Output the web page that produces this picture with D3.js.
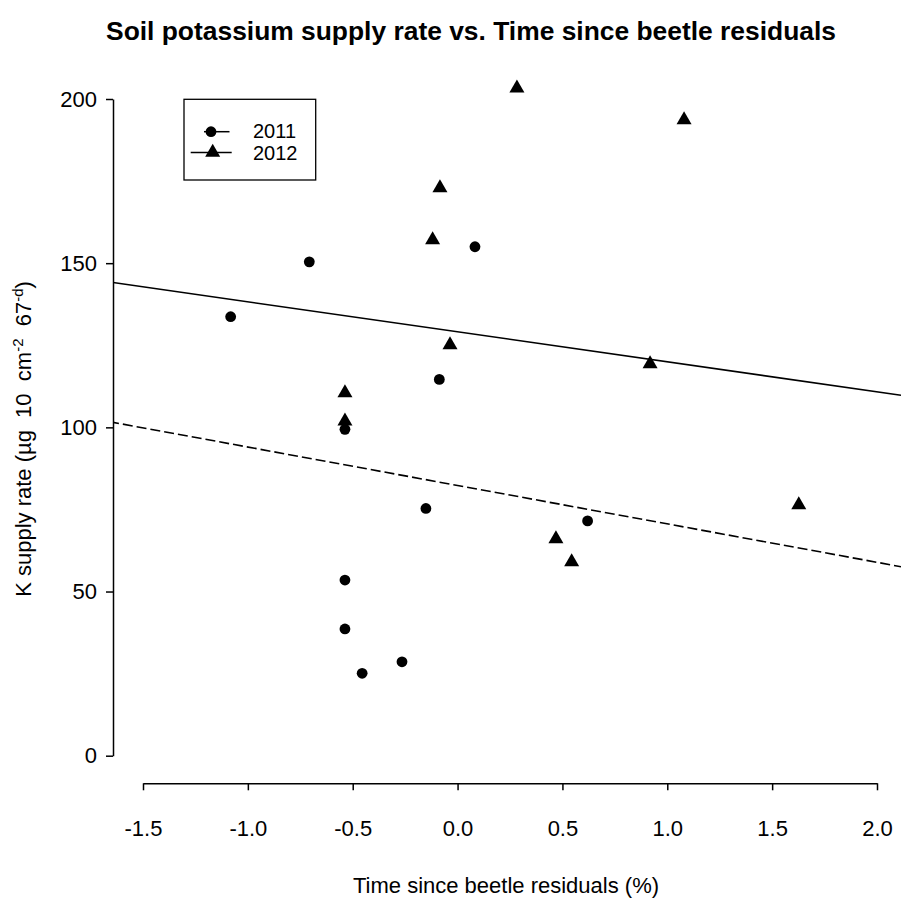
<!DOCTYPE html>
<html>
<head>
<meta charset="utf-8">
<script src="https://cdn.jsdelivr.net/npm/d3@7"></script>
<style>
  html, body { margin: 0; padding: 0; background: #fff; }
  svg { display: block; }
  text { font-family: "Liberation Sans", Arial, sans-serif; fill: #000; }
</style>
</head>
<body>
<svg id="chart" width="901" height="901"></svg>
<script>
// Residual time since beetle attack (x) and K supply rate (y), per sampling year
const x2011 = [-1.082, -0.707, 0.083, -0.087, -0.537, -0.151, 0.620, -0.537, -0.537, -0.265, -0.455];
const y2011 = [133.7, 150.4, 155.0, 114.6, 99.4, 75.3, 71.5, 53.5, 38.6, 28.6, 25.1];
const x2012 = [0.283, 1.080, -0.084, -0.119, -0.036, -0.537, -0.537, 0.918, 0.469, 0.544, 1.627];
const y2012 = [203.3, 193.6, 172.9, 157.1, 125.1, 110.5, 101.9, 119.3, 66.0, 59.0, 76.4];

// Fitted regression lines: [intercept, slope]
const fit2011 = [82.3, -11.70];
const fit2012 = [129.1, -9.13];

const xTicks = [-1.5, -1.0, -0.5, 0.0, 0.5, 1.0, 1.5, 2.0];
const yTicks = [0, 50, 100, 150, 200];
const years = ["2011", "2012"];

const titleText = "Soil potassium supply rate vs. Time since beetle residuals";
const xLabel = "Time since beetle residuals (%)";

const svg = d3.select("#chart");

const plotLeft = 113, plotRight = 901;
const x = d3.scaleLinear().domain([-1.5, 2.0]).range([143, 877]);
const y = d3.scaleLinear().domain([0, 200]).range([755.7, 99]);

const baseFont = 22;

// clip region for the fit lines (plot region)
svg.append("defs").append("clipPath").attr("id", "plotClip")
  .append("rect").attr("x", plotLeft).attr("y", 60).attr("width", plotRight - plotLeft).attr("height", 723);

// Title
svg.append("text")
  .attr("x", 471).attr("y", 40)
  .attr("text-anchor", "middle")
  .style("font-size", (baseFont * 1.2) + "px").style("font-weight", "bold")
  .text(titleText);

// Axes
const hyphenFmt = f => v => d3.format(f)(v).replace("\u2212", "-");

const yAxis = svg.append("g")
  .attr("transform", `translate(${plotLeft},0)`)
  .call(d3.axisLeft(y).tickValues(yTicks).tickFormat(hyphenFmt("d")).tickSize(7).tickSizeOuter(0).tickPadding(9));
const xAxis = svg.append("g")
  .attr("transform", "translate(0,783.3)")
  .call(d3.axisBottom(x).tickValues(xTicks).tickFormat(hyphenFmt(".1f")).tickSize(7).tickSizeOuter(0).tickPadding(30));

[yAxis, xAxis].forEach(g => {
  g.selectAll("path.domain").attr("stroke", "#000").attr("stroke-width", 1.5);
  g.selectAll(".tick line").attr("stroke", "#000").attr("stroke-width", 1.5);
  g.selectAll(".tick text").style("font-size", baseFont + "px").style("font-family", "'Liberation Sans', Arial, sans-serif").attr("fill", "#000");
});

// Axis titles
svg.append("text")
  .attr("x", 506).attr("y", 893)
  .attr("text-anchor", "middle")
  .style("font-size", baseFont + "px")
  .text(xLabel);

const yl = svg.append("text")
  .attr("transform", "translate(31,439) rotate(-90)")
  .attr("text-anchor", "middle")
  .style("font-size", baseFont + "px")
  .style("white-space", "pre");
yl.append("tspan").text("K supply rate (\u00b5g  10  cm");
yl.append("tspan").attr("dy", -8).style("font-size", "15px").text("-2");
yl.append("tspan").attr("dy", 8).text("  67");
yl.append("tspan").attr("dy", -8).style("font-size", "15px").text("-d");
yl.append("tspan").attr("dy", 8).text(")");

// Fit lines
const xFrom = x.invert(plotLeft), xTo = x.invert(plotRight);
const lineGen = d3.line().x(d => x(d[0])).y(d => y(d[1]));
const fitPts = f => [[xFrom, f[0] + f[1] * xFrom], [xTo, f[0] + f[1] * xTo]];

const fits = svg.append("g").attr("clip-path", "url(#plotClip)");
fits.append("path")
  .attr("d", lineGen(fitPts(fit2012)))
  .attr("fill", "none").attr("stroke", "#000").attr("stroke-width", 1.6);
fits.append("path")
  .attr("d", lineGen(fitPts(fit2011)))
  .attr("fill", "none").attr("stroke", "#000").attr("stroke-width", 1.6)
  .attr("stroke-dasharray", "10,4").attr("stroke-dashoffset", -10);

// Markers
const triSize = 5.57;
const triPath = (cx, cy) => {
  const top = 1.555 * triSize, half = 1.347 * triSize, bot = 0.778 * triSize;
  return `M${cx},${cy - top}L${cx + half},${cy + bot}L${cx - half},${cy + bot}Z`;
};

const pts2011 = x2011.map((v, i) => [v, y2011[i]]);
const pts2012 = x2012.map((v, i) => [v, y2012[i]]);

svg.append("g").selectAll("circle").data(pts2011).join("circle")
  .attr("cx", d => x(d[0])).attr("cy", d => y(d[1])).attr("r", 5.4)
  .attr("fill", "#000");

svg.append("g").selectAll("path").data(pts2012).join("path")
  .attr("d", d => triPath(x(d[0]), y(d[1])))
  .attr("fill", "#000");

// Legend
const lg = svg.append("g");
lg.append("rect").attr("x", 184).attr("y", 99.3).attr("width", 131.7).attr("height", 80.7)
  .attr("fill", "#fff").attr("stroke", "#000").attr("stroke-width", 1.3);
// 2011 entry
lg.append("line").attr("x1", 204).attr("x2", 209).attr("y1", 131.7).attr("y2", 131.7).attr("stroke", "#000").attr("stroke-width", 1.5);
lg.append("line").attr("x1", 216).attr("x2", 229.5).attr("y1", 131.7).attr("y2", 131.7).attr("stroke", "#000").attr("stroke-width", 1.5);
lg.append("circle").attr("cx", 211).attr("cy", 131.7).attr("r", 5.4).attr("fill", "#000");
// 2012 entry
lg.append("line").attr("x1", 190.7).attr("x2", 231.7).attr("y1", 152.5).attr("y2", 152.5).attr("stroke", "#000").attr("stroke-width", 1.5);
lg.append("path").attr("d", triPath(212.7, 152.5)).attr("fill", "#000");

lg.selectAll("text.lab").data(years).join("text")
  .attr("class", "lab")
  .attr("x", 253).attr("y", (d, i) => 138.3 + i * 22)
  .style("font-size", "20px")
  .text(d => d);
</script>
</body>
</html>
